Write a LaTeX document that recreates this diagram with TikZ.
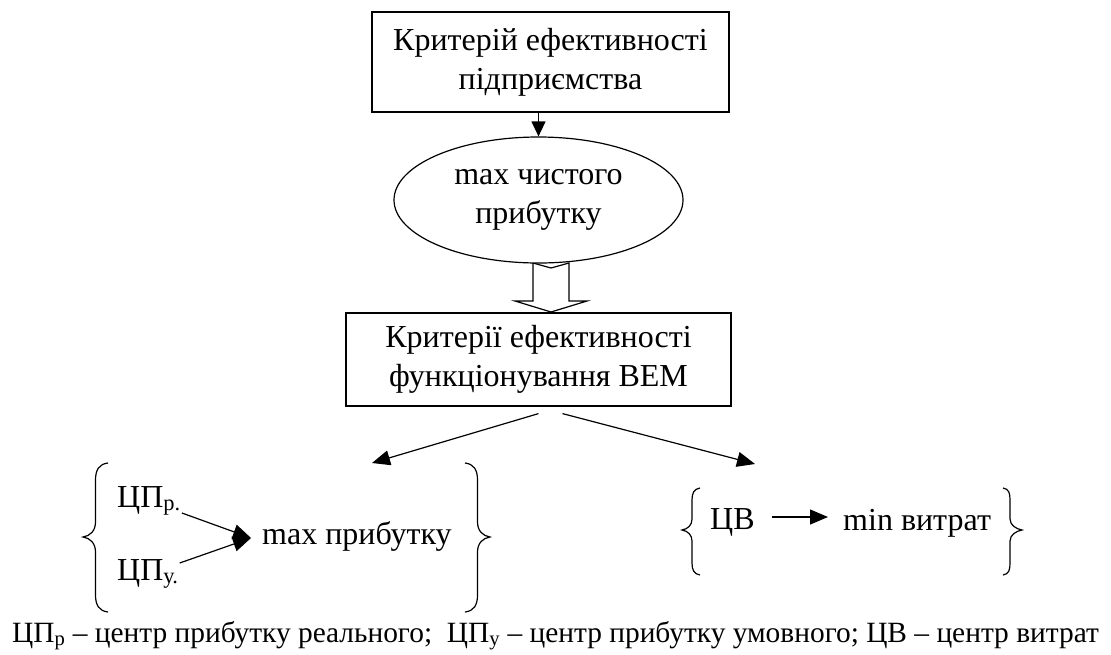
\documentclass[tikz,border=0pt]{standalone}
\usepackage{fontspec}
\setmainfont{Liberation Serif}
\usetikzlibrary{arrows.meta,shapes.geometric,calc}
\begin{document}
\begin{tikzpicture}[x=1pt,y=-1pt,
  every node/.style={font=\fontsize{32}{39}\selectfont},
  boxnode/.style={draw, line width=1.2pt, align=center, inner sep=0pt},
  ell/.style={ellipse, draw, fill=white, line width=1.2pt, align=center, inner sep=0pt},
  txt/.style={inner sep=0pt, anchor=base west},
  arr/.style={line width=1.2pt, -{Triangle[length=18pt,width=15pt]}},
  brc/.style={line width=1.2pt},
  hollow/.style={line width=1.2pt, fill=white, line join=miter}]
\useasboundingbox (0,0) rectangle (1111,654);

% top box
\node[boxnode, minimum width=357pt, minimum height=100pt] (b1) at (550.5,62)
  {Критерій ефективності\\підприємства};

% hollow arrow (drawn before the ellipse)
\draw[hollow] (533,263) -- (551,268) -- (569,263) -- (569,301) -- (587,301)
  -- (551,312) -- (515,301) -- (533,301) -- cycle;

% ellipse
\node[ell, minimum width=289pt, minimum height=126pt] (e1) at (538.5,200)
  {max чистого\\прибутку};

% second box
\node[boxnode, minimum width=385pt, minimum height=93pt] (b2) at (538.5,359.5)
  {Критерії ефективності\\функціонування ВЕМ};

\draw[arr, -{Triangle[length=15pt,width=14pt]}] (e1.north |- b1.south) -- (e1.north);

% branch arrows
\coordinate (L) at (372,463);
\coordinate (R) at (755,464);
\draw[arr] ([shift={(0,7)}]b2.south) -- (L);
\draw[arr] ([shift={(24,7)}]b2.south) -- (R);

% left group
\node[txt] (cpr) at (117,507) {ЦП\textsubscript{р.}};
\node[txt] (cpy) at (117,580) {ЦП\textsubscript{у.}};
\node[txt] (maxp) at (262,544) {max прибутку};
\draw[arr] ([shift={(1,6)}]cpr.base east) -- ([shift={(-11,-6)}]maxp.base west);
\draw[arr] ([shift={(1,-17)}]cpy.base east) -- ([shift={(-11,-6)}]maxp.base west);

\draw[brc] (108,463) .. controls (99,464) and (95.5,470) .. (95.5,480) -- (95.5,522)
  .. controls (95.5,531) and (90,536) .. (83,537) .. controls (90,538) and (95.5,543) .. (95.5,552)
  -- (95.5,595) .. controls (95.5,605) and (99,611) .. (108,612);
\draw[brc] (465,463) .. controls (474,464) and (477.5,470) .. (477.5,480) -- (477.5,522)
  .. controls (477.5,531) and (483,536) .. (490,537) .. controls (483,538) and (477.5,543) .. (477.5,552)
  -- (477.5,595) .. controls (477.5,605) and (474,611) .. (465,612);

% right group
\node[txt] (cv) at (710,529) {ЦВ};
\node[txt] (minv) at (843,530) {min витрат};
\draw[arr] ([shift={(17,-12)}]cv.base east) -- ([shift={(-15,-13)}]minv.base west);

\draw[brc] (700,488) .. controls (694,489) and (692,493) .. (692,500) -- (692,519)
  .. controls (692,525) and (688,529) .. (682,530) .. controls (688,531) and (692,535) .. (692,541)
  -- (692,563) .. controls (692,570) and (694,574) .. (700,575);
\draw[brc] (1003,488) .. controls (1009,489) and (1010,493) .. (1010,500) -- (1010,519)
  .. controls (1010,525) and (1016,529) .. (1022,530) .. controls (1016,531) and (1010,535) .. (1010,541)
  -- (1010,563) .. controls (1010,570) and (1009,574) .. (1003,575);

% caption
\node[txt, font=\fontsize{29.4}{36}\selectfont] (cap) at (12,642) {ЦП\textsubscript{р} – центр прибутку реального;\ \ ЦП\textsubscript{у} – центр прибутку умовного; ЦВ – центр витрат};
\end{tikzpicture}
\end{document}
